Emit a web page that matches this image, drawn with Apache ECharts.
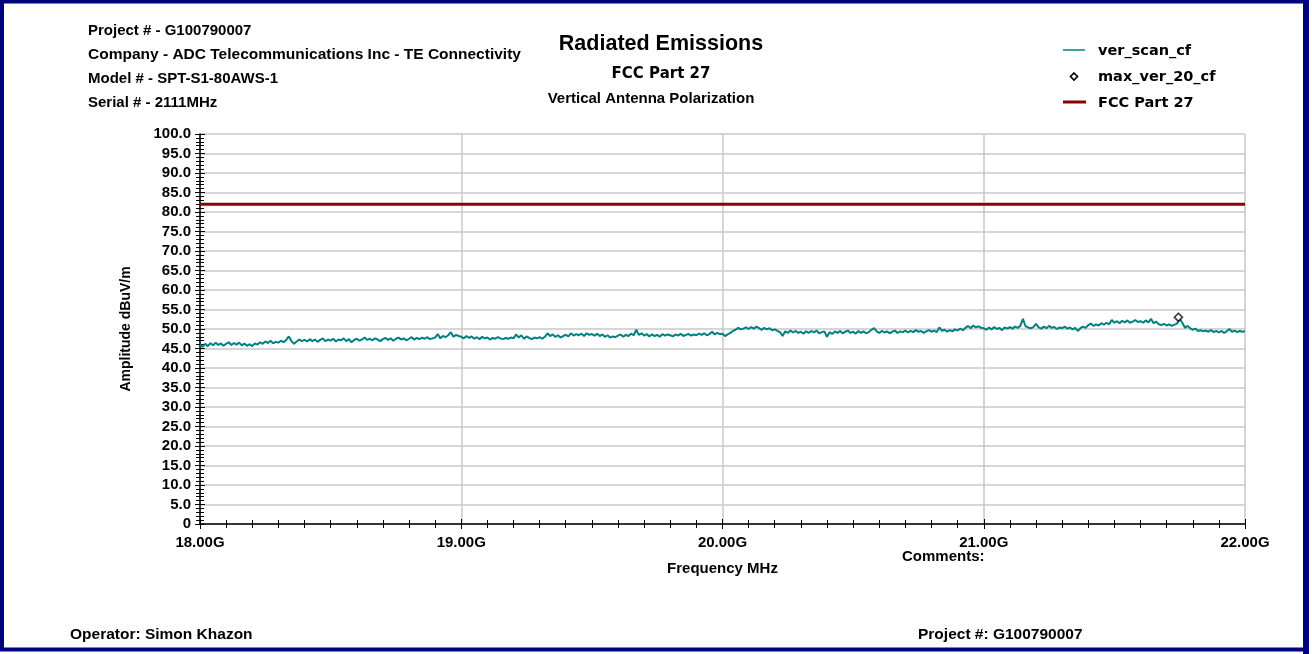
<!DOCTYPE html>
<html>
<head>
<meta charset="utf-8">
<script src="https://cdn.jsdelivr.net/npm/echarts@6/dist/echarts.min.js"></script>
<style>
html,body{margin:0;padding:0;background:#fff;}
#chart{width:1312px;height:654px;}
</style>
</head>
<body>
<div id="chart"></div>
<script>
// ---- data ----
var freqStartGHz = 18.0;
var freqStepGHz = 0.01;
var verScan = [
46.0,45.4,46.2,45.6,46.4,45.8,46.5,45.9,46.3,45.7,
46.2,46.6,45.9,46.4,46.0,46.5,45.8,46.3,45.7,46.1,
45.6,46.3,46.0,46.6,46.2,46.8,46.4,47.0,46.3,46.7,
46.5,47.0,46.6,47.2,48.1,46.9,46.2,46.8,47.3,46.9,
47.2,46.8,47.4,46.9,47.3,46.7,47.2,47.6,46.9,47.3,
47.0,47.5,46.8,47.3,47.1,47.6,46.9,47.4,46.6,47.2,
47.5,47.0,47.3,47.8,47.2,47.5,47.1,47.6,47.3,46.9,
47.4,47.7,47.2,47.6,47.0,47.5,47.8,47.3,47.6,47.1,
47.5,47.9,47.3,47.7,47.4,47.8,47.5,47.9,47.4,47.6,
47.8,48.7,47.6,48.2,47.9,48.4,49.2,48.0,48.5,48.2,
48.0,47.6,48.2,47.7,48.1,47.5,47.9,47.4,48.0,47.6,
47.8,47.3,47.7,47.5,47.9,47.6,47.4,47.7,47.5,47.8,
47.6,48.6,47.8,48.4,47.5,48.1,47.7,47.4,47.8,47.6,
47.9,47.5,48.0,48.9,48.2,48.6,48.0,48.4,47.8,48.2,
48.5,48.1,48.9,48.3,48.7,48.4,48.8,48.2,48.9,48.5,
48.7,48.3,48.8,48.2,48.6,48.0,48.4,47.8,48.1,47.9,
48.3,48.6,48.0,48.5,48.2,48.8,48.4,49.8,48.5,48.9,
48.3,48.7,48.1,48.6,48.2,48.5,48.0,48.7,48.3,48.6,
48.4,48.1,48.6,48.3,48.8,48.2,48.5,48.7,48.3,48.6,
48.4,48.8,48.5,48.9,48.4,48.7,49.3,48.6,49.0,48.7,
48.8,48.2,48.6,49.0,49.5,49.8,50.3,49.9,50.1,50.4,
50.0,50.5,50.1,50.6,50.2,49.8,50.3,49.9,50.2,49.7,
49.9,49.5,49.2,48.2,49.4,49.0,49.6,49.1,49.5,49.0,
49.3,48.8,49.4,49.0,49.5,49.1,49.6,48.9,49.2,49.4,
48.0,49.2,48.7,49.4,49.0,49.5,48.9,49.3,49.6,49.0,
49.3,48.8,49.5,49.0,49.4,48.9,49.2,49.8,50.2,49.4,
49.0,49.5,49.1,49.4,48.9,49.3,49.6,49.0,49.4,49.2,
49.6,49.1,49.5,49.2,49.7,49.3,49.5,49.0,49.4,49.7,
49.3,49.6,49.2,50.4,49.5,49.8,49.3,49.7,49.4,49.9,
49.6,50.1,49.7,50.3,50.8,50.2,50.9,50.4,50.7,50.3,
50.2,49.8,50.4,49.9,50.5,50.0,50.3,49.7,50.4,50.1,
50.5,50.1,50.6,50.3,50.8,52.6,50.7,50.4,50.2,50.5,
51.3,50.4,50.1,50.6,50.2,50.8,50.3,50.5,50.0,50.4,
50.2,50.6,50.1,50.4,49.9,50.3,49.5,50.2,50.6,50.3,
51.0,51.4,50.8,51.2,50.9,51.5,51.1,51.6,51.2,52.3,
51.6,52.0,51.5,52.1,51.7,52.2,51.6,51.9,52.3,51.8,
52.0,51.6,52.2,51.7,52.6,51.5,51.9,51.2,51.0,51.3,
50.9,51.2,50.8,51.1,51.4,52.6,51.6,50.3,50.8,50.2,
49.8,50.1,49.5,49.7,49.4,49.6,49.3,49.7,49.2,49.5,
49.1,49.5,49.0,49.4,50.0,49.3,49.6,49.2,49.5,49.3,
49.4
];
var maxFreq = [21.745];
var maxVal = [53.0];
var limitFreq = [18.0, 22.0];
var limitVal = [82.0, 82.0];
var xTicks = [18, 19, 20, 21, 22];
var legendNames = ['ver_scan_cf', 'max_ver_20_cf', 'FCC Part 27'];

var scanData = verScan.map(function (v, i) { return [+(freqStartGHz + i * freqStepGHz).toFixed(2), v]; });
var maxData = maxFreq.map(function (f, i) { return [f, maxVal[i]]; });
var limitData = limitFreq.map(function (f, i) { return [f, limitVal[i]]; });

var FONT = '"Liberation Sans", Arial, sans-serif';
var FONT2 = '"DejaVu Sans", sans-serif';
var TEAL = '#008080', RED = '#8b0000';

var chart = echarts.init(document.getElementById('chart'), null, {renderer: 'canvas'});

function xAx(main) {
  return {
    type: 'value', min: xTicks[0], max: xTicks[xTicks.length - 1], interval: 1,
    position: 'bottom',
    name: main ? 'Frequency MHz' : '',
    nameLocation: 'middle', nameGap: 37,
    nameTextStyle: {fontFamily: FONT, fontWeight: 'bold', fontSize: 15, color: '#000'},
    axisLine: {show: main, onZero: false, lineStyle: {color: '#000', width: 1.5}},
    axisTick: {show: true, inside: main, length: 5, lineStyle: {color: '#000', width: 1}},
    minorTick: {show: true, splitNumber: 10, length: 4, lineStyle: {color: '#000', width: 1}},
    axisLabel: {show: main, margin: 11, fontFamily: FONT, fontWeight: 'bold', fontSize: 15, color: '#000',
      formatter: function (v) { return v.toFixed(2) + 'G'; }},
    splitLine: {show: main, lineStyle: {color: '#c8c8c8', width: 1.5}},
    minorSplitLine: {show: false}
  };
}
function yAx(main) {
  return {
    type: 'value', min: 0, max: 100, interval: 5,
    position: 'left',
    name: main ? 'Amplitude dBuV/m' : '',
    nameLocation: 'middle', nameGap: 67,
    nameTextStyle: {fontFamily: FONT, fontWeight: 'bold', fontSize: 14, color: '#000'},
    axisLine: {show: main, onZero: false, lineStyle: {color: '#000', width: 1.5}},
    axisTick: {show: true, inside: main, length: 5, lineStyle: {color: '#000', width: 1}},
    minorTick: {show: true, splitNumber: 5, length: 4, lineStyle: {color: '#000', width: 1}},
    axisLabel: {show: main, margin: 9, fontFamily: FONT, fontWeight: 'bold', fontSize: 15, color: '#000',
      formatter: function (v) { return v === 0 ? '0' : v.toFixed(1); }},
    splitLine: {show: main, lineStyle: {color: '#c8c8c8', width: 1.5}},
    minorSplitLine: {show: false}
  };
}

var txt = function (x, y, s, size, align, fam) {
  return {type: 'text', x: x, y: y, silent: true,
    style: {text: s, fill: '#000', font: 'bold ' + size + 'px ' + (fam || FONT), textAlign: align || 'left', textVerticalAlign: 'middle'}};
};

var option = {
  backgroundColor: '#fff',
  animation: false,
  grid: {left: 200, right: 67, top: 134, bottom: 130, containLabel: false},
  xAxis: [xAx(true), xAx(false)],
  yAxis: [yAx(true), yAx(false)],
  series: [
    {name: legendNames[0], type: 'line', data: scanData, symbol: 'none',
      lineStyle: {color: TEAL, width: 2}, itemStyle: {color: TEAL}, z: 3},
    {name: legendNames[1], type: 'scatter', data: maxData, symbol: 'diamond', symbolSize: 8,
      itemStyle: {color: '#fff', borderColor: '#000', borderWidth: 1.6}, z: 5},
    {name: legendNames[2], type: 'line', data: limitData, symbol: 'none',
      lineStyle: {color: RED, width: 3}, itemStyle: {color: RED}, z: 4}
  ],
  graphic: [
    {type: 'rect', silent: true, shape: {x: 2, y: 1.5, width: 1303, height: 648},
      style: {fill: 'none', stroke: '#000080', lineWidth: 4}},
    {type: 'rect', silent: true, shape: {x: 1303, y: 0, width: 6, height: 654},
      style: {fill: '#000080'}},
    txt(88, 31, 'Project # - G100790007', 15),
    txt(88, 55, 'Company - ADC Telecommunications Inc - TE Connectivity', 15.5),
    txt(88, 79, 'Model # - SPT-S1-80AWS-1', 15),
    txt(88, 103, 'Serial # - 2111MHz', 15),
    txt(661, 44, 'Radiated Emissions', 21.5, 'center'),
    txt(661, 74, 'FCC Part 27', 15, 'center', FONT2),
    txt(651, 99, 'Vertical Antenna Polarization', 15, 'center'),
    txt(902, 557, 'Comments:', 15),
    txt(70, 635, 'Operator: Simon Khazon', 15.5),
    txt(918, 635, 'Project #: G100790007', 15.5),
    // legend
    {type: 'line', silent: true, shape: {x1: 1063, y1: 50, x2: 1085, y2: 50}, style: {stroke: TEAL, lineWidth: 1.5}},
    {type: 'polygon', silent: true, shape: {points: [[1074, 73], [1077.5, 76.5], [1074, 80], [1070.5, 76.5]]},
      style: {fill: '#fff', stroke: '#000', lineWidth: 1.6}},
    {type: 'line', silent: true, shape: {x1: 1063, y1: 102, x2: 1086, y2: 102}, style: {stroke: RED, lineWidth: 3}},
    txt(1098, 51, legendNames[0], 14.5, 'left', FONT2),
    txt(1098, 77, legendNames[1], 14.5, 'left', FONT2),
    txt(1098, 103, legendNames[2], 14.5, 'left', FONT2)
  ]
};
chart.setOption(option);
</script>
</body>
</html>
